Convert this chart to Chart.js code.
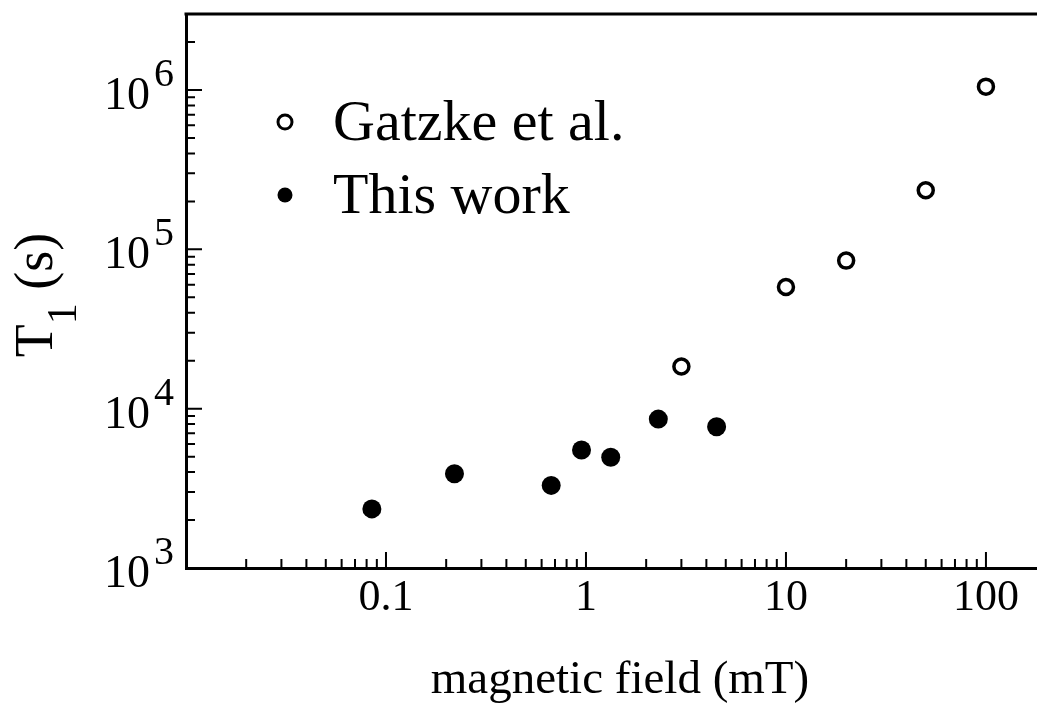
<!DOCTYPE html>
<html>
<head>
<meta charset="utf-8">
<script src="https://cdn.jsdelivr.net/npm/chart.js@4"></script>
<style>
  html, body { margin: 0; padding: 0; background: #fff; overflow: hidden; }
  #wrap { width: 1037px; height: 703px; position: relative; }
</style>
</head>
<body>
<div id="wrap"><canvas id="chart"></canvas></div>
<script>
// values
const gatzkeField = [3, 10, 20, 50, 100];
const gatzkeT1 = [1.84e4, 5.8e4, 8.5e4, 2.35e5, 1.05e6];
const thisWorkField = [0.085, 0.22, 0.67, 0.95, 1.33, 2.3, 4.5];
const thisWorkT1 = [2.35e3, 3.9e3, 3.3e3, 5.5e3, 4.95e3, 8.6e3, 7.7e3];

const xTickValues = [0.1, 1, 10, 100];
const xTickLabels = ['0.1', '1', '10', '100'];
const yTickExponents = [3, 4, 5, 6];
const seriesLabels = ['Gatzke et al.', 'This work'];
const xTitle = 'magnetic field (mT)';

const SERIF = "'Liberation Serif', 'Times New Roman', serif";

const toPoints = (xs, ys) => xs.map((x, i) => ({ x: x, y: ys[i] }));

// ticks point inward, plus top frame, y labels with superscripts, titles, legend
const framePlugin = {
    id: 'frame',
    afterDraw: (chart) => {
        const { ctx, chartArea: a } = chart;
        const xs = chart.scales.x;
        const ys = chart.scales.y;
        ctx.save();
        ctx.strokeStyle = '#000';
        ctx.fillStyle = '#000';

        // top border
        ctx.lineWidth = 3;
        ctx.beginPath();
        ctx.moveTo(a.left - 1.5, a.top);
        ctx.lineTo(a.right, a.top);
        ctx.stroke();

        // tick marks
        ctx.lineWidth = 2;
        ctx.beginPath();
        for (let e = -3; e <= 3; e++) {
            for (let m = 1; m <= 9; m++) {
                const v = m * Math.pow(10, e);
                if (v > xs.min && v < xs.max) {
                    const px = xs.getPixelForValue(v);
                    const len = m === 1 ? 16 : 9;
                    ctx.moveTo(px, a.bottom);
                    ctx.lineTo(px, a.bottom - len);
                }
            }
        }
        for (let e = 2; e <= 7; e++) {
            for (let m = 1; m <= 9; m++) {
                const v = m * Math.pow(10, e);
                if (v > ys.min && v < ys.max) {
                    const py = ys.getPixelForValue(v);
                    const len = m === 1 ? 16 : 9;
                    ctx.moveTo(a.left, py);
                    ctx.lineTo(a.left + len, py);
                }
            }
        }
        ctx.stroke();

        // y tick labels 10^n
        ctx.textBaseline = 'alphabetic';
        yTickExponents.forEach((n) => {
            const py = ys.getPixelForValue(Math.pow(10, n));
            ctx.font = '46px ' + SERIF;
            ctx.textAlign = 'right';
            ctx.fillText('10', 150, py + 19);
            ctx.font = '40px ' + SERIF;
            ctx.textAlign = 'left';
            ctx.fillText(String(n), 154, py - 4);
        });

        // x axis title
        ctx.font = '47px ' + SERIF;
        ctx.textAlign = 'center';
        ctx.fillText(xTitle, 620, 693);

        // y axis title: T_1 (s)
        ctx.save();
        ctx.translate(52, 295);
        ctx.rotate(-Math.PI / 2);
        ctx.textAlign = 'left';
        ctx.font = '54px ' + SERIF;
        const wT = ctx.measureText('T').width;
        const wRest = ctx.measureText(' (s)').width;
        ctx.font = '42px ' + SERIF;
        const wSub = ctx.measureText('1').width;
        let tx = -(wT + wSub + wRest) / 2;
        ctx.font = '54px ' + SERIF;
        ctx.fillText('T', tx, 0);
        tx += wT;
        ctx.font = '42px ' + SERIF;
        ctx.fillText('1', tx, 24);
        tx += wSub;
        ctx.font = '54px ' + SERIF;
        ctx.fillText(' (s)', tx, 0);
        ctx.restore();

        // legend
        const rows = [122, 195];
        chart.data.datasets.forEach((ds, i) => {
            const cy = rows[i];
            ctx.beginPath();
            if (ds.backgroundColor === '#fff') {
                ctx.lineWidth = 3;
                ctx.arc(285, cy, 7, 0, Math.PI * 2);
                ctx.stroke();
            } else {
                ctx.arc(285, cy, 7.5, 0, Math.PI * 2);
                ctx.fill();
            }
            ctx.font = '58px ' + SERIF;
            ctx.textAlign = 'left';
            ctx.fillText(ds.label, 333, cy + 18);
        });

        ctx.restore();
    },
};

new Chart(document.getElementById('chart'), {
    type: 'scatter',
    data: {
        datasets: [
            {
                label: seriesLabels[0],
                data: toPoints(gatzkeField, gatzkeT1),
                pointStyle: 'circle',
                pointRadius: 7.5,
                borderWidth: 3.5,
                borderColor: '#000',
                backgroundColor: '#fff',
            },
            {
                label: seriesLabels[1],
                data: toPoints(thisWorkField, thisWorkT1),
                pointStyle: 'circle',
                pointRadius: 9.5,
                borderWidth: 0,
                borderColor: '#000',
                backgroundColor: '#000',
            },
        ],
    },
    options: {
        responsive: true,
        maintainAspectRatio: false,
        animation: false,
        devicePixelRatio: 1,
        layout: { autoPadding: false, padding: { top: 14, right: 0, left: 0, bottom: 0 } },
        plugins: {
            legend: { display: false },
            tooltip: { enabled: false },
        },
        scales: {
            x: {
                type: 'logarithmic',
                min: 0.01,
                max: 180,
                afterBuildTicks: (scale) => {
                    scale.ticks = xTickValues.map((v) => ({ value: v, major: true }));
                },
                afterFit: (scale) => {
                    scale.height = 135;
                    scale.paddingLeft = 0;
                    scale.paddingRight = 0;
                },
                grid: { display: false },
                border: { display: true, color: '#000', width: 3 },
                ticks: {
                    autoSkip: false,
                    maxRotation: 0,
                    padding: -4,
                    color: '#000',
                    font: { family: SERIF, size: 44 },
                    callback: (v, i) => xTickLabels[i],
                },
            },
            y: {
                type: 'logarithmic',
                min: 1e3,
                max: 3e6,
                afterBuildTicks: (scale) => {
                    scale.ticks = yTickExponents.map((n) => ({ value: Math.pow(10, n), major: true }));
                },
                afterFit: (scale) => {
                    scale.width = 186;
                    scale.paddingTop = 0;
                    scale.paddingBottom = 0;
                },
                grid: { display: false },
                border: { display: true, color: '#000', width: 3 },
                ticks: { display: false },
            },
        },
    },
    plugins: [framePlugin],
});
</script>
</body>
</html>
